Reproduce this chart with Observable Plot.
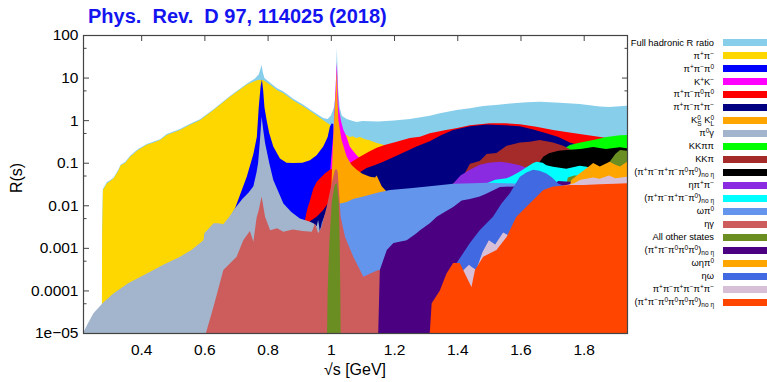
<!DOCTYPE html>
<html><head><meta charset="utf-8">
<script src="https://cdn.jsdelivr.net/npm/d3@7"></script>
<script src="https://cdn.jsdelivr.net/npm/@observablehq/plot@0.6"></script>
<style>
body{margin:0;background:#fff;font-family:"Liberation Sans",Arial,Helvetica,sans-serif;}
#wrap{position:relative;width:767px;height:382px;overflow:hidden;background:#fff;}
#wrap svg{position:absolute;left:0;top:0;}
#title{position:absolute;left:88px;top:4px;font-size:20px;line-height:24px;font-weight:bold;color:#1414f0;white-space:pre;}
.leg{position:absolute;left:520px;width:194px;height:14px;text-align:right;font-size:9.3px;line-height:14px;white-space:nowrap;color:#000;}
.sw{position:absolute;left:723px;width:44px;height:7px;}
.leg sup{font-size:70%;vertical-align:0.45em;line-height:0;}
.leg sub{font-size:70%;vertical-align:-0.3em;line-height:0;}
.st{display:inline-block;font-size:70%;line-height:0.95;vertical-align:-0.45em;text-align:left;}
#ylab{position:absolute;left:17px;top:178px;transform:translate(-50%,-50%) rotate(-90deg);font-size:16px;white-space:nowrap;}
#xlab{position:absolute;left:355px;top:370px;transform:translate(-50%,-50%);font-size:16px;white-space:nowrap;}
</style>
</head><body>
<div id="wrap"></div>
<script>
const titleText = "Phys.  Rev.  D 97, 114025 (2018)";
const xLabel = "√s [GeV]";
const yLabel = "R(s)";
const xTicks = [0.4, 0.6, 0.8, 1.0, 1.2, 1.4, 1.6, 1.8];
const xTickLabels = ["0.4", "0.6", "0.8", "1", "1.2", "1.4", "1.6", "1.8"];
const yMajor = [1e-5, 1e-4, 1e-3, 1e-2, 0.1, 1, 10, 100];
const yTickLabels = ["1e\u221205", "0.0001", "0.001", "0.01", "0.1", "1", "10", "100"];
const yMinor = [5e-5, 5e-4, 5e-3, 0.05, 0.5, 5, 50];

// series: [sqrt(s) GeV, R]
const fullR = [[0.276,4.5e-5],[0.2765,2.5e-3],[0.279,0.024],[0.292,0.035],[0.3,0.038],[0.313,0.045],[0.325,0.063],[0.33,0.074],[0.335,0.09],[0.339,0.093],[0.35,0.105],[0.365,0.145],[0.39,0.21],[0.418,0.275],[0.44,0.315],[0.46,0.355],[0.481,0.47],[0.523,0.62],[0.55,0.79],[0.586,1.05],[0.629,1.8],[0.681,3.7],[0.734,7.2],[0.76,9.5],[0.772,12],[0.778,16.6],[0.781,20],[0.785,13.2],[0.79,9.8],[0.81,7.4],[0.83,5.6],[0.85,4.7],[0.881,3.16],[0.913,2.3],[0.945,1.58],[0.976,1.12],[0.99,1.07],[1.0,1.26],[1.01,2.0],[1.015,4.0],[1.019,49],[1.023,5.6],[1.028,2.0],[1.035,1.26],[1.05,1.07],[1.07,0.95],[1.082,0.91],[1.1,0.95],[1.15,0.93],[1.2,0.98],[1.25,1.07],[1.313,1.26],[1.345,1.45],[1.398,1.74],[1.44,1.9],[1.482,2.14],[1.53,2.3],[1.577,2.5],[1.62,2.63],[1.661,2.7],[1.724,2.57],[1.787,2.4],[1.851,2.1],[1.88,2.04],[1.937,2.19]];
const pipi = [[0.2758,4.5e-5],[0.2765,2e-3],[0.279,0.023],[0.292,0.033],[0.3,0.036],[0.313,0.043],[0.325,0.06],[0.33,0.07],[0.335,0.086],[0.339,0.089],[0.35,0.1],[0.365,0.138],[0.39,0.2],[0.418,0.263],[0.44,0.3],[0.46,0.34],[0.481,0.45],[0.523,0.59],[0.55,0.75],[0.586,1.0],[0.629,1.74],[0.681,3.55],[0.734,6.8],[0.766,8.7],[0.776,8.9],[0.787,8.7],[0.808,6.8],[0.829,5.1],[0.85,4.3],[0.881,2.9],[0.913,2.1],[0.945,1.45],[0.976,1.0],[0.997,0.78],[1.02,0.56],[1.034,0.47],[1.05,0.45],[1.06,0.4],[1.07,0.42],[1.08,0.38],[1.092,0.4],[1.11,0.35],[1.12,0.34],[1.145,0.29],[1.17,0.26],[1.2,0.23],[1.3,0.16],[1.5,0.08],[1.937,0.025]];
const pipipi0 = [[0.6,1e-3],[0.65,2e-3],[0.697,8.5e-3],[0.734,0.047],[0.755,0.16],[0.766,0.41],[0.772,2.0],[0.778,6.3],[0.782,9.0],[0.786,5.0],[0.79,2.0],[0.797,1.0],[0.805,0.5],[0.818,0.24],[0.839,0.126],[0.86,0.1],[0.881,0.098],[0.91,0.1],[0.934,0.115],[0.955,0.15],[0.976,0.24],[0.99,0.4],[0.997,0.7],[1.003,0.85],[1.008,0.8],[1.012,0.3],[1.02,0.15],[1.03,0.1],[1.1,0.05],[1.2,0.03],[1.937,0.006]];
const kpkm = [[0.987,1e-5],[0.99,0.01],[1.0,0.1],[1.008,0.5],[1.012,2.0],[1.016,8],[1.019,23],[1.022,5],[1.025,2.0],[1.027,1.6],[1.033,0.9],[1.04,0.59],[1.05,0.4],[1.06,0.24],[1.07,0.19],[1.082,0.15],[1.1,0.11],[1.15,0.07],[1.3,0.04],[1.937,0.02]];
const pipi2pi0 = [[0.85,1e-4],[0.9,1.6e-3],[0.918,4.5e-3],[0.925,8e-3],[0.934,0.013],[0.945,0.025],[0.955,0.035],[0.966,0.043],[0.981,0.056],[0.997,0.068],[1.03,0.08],[1.06,0.098],[1.092,0.138],[1.12,0.18],[1.145,0.224],[1.17,0.26],[1.208,0.31],[1.25,0.38],[1.282,0.41],[1.313,0.49],[1.36,0.58],[1.4,0.65],[1.44,0.76],[1.503,0.85],[1.55,0.85],[1.598,0.8],[1.65,0.7],[1.703,0.59],[1.75,0.52],[1.809,0.45],[1.874,0.38],[1.937,0.33]];
const twopi2pi = [[0.9,1e-4],[0.934,4.2e-3],[0.955,5.4e-3],[0.976,7.8e-3],[0.997,0.013],[1.03,0.022],[1.06,0.035],[1.092,0.06],[1.113,0.075],[1.14,0.088],[1.166,0.105],[1.218,0.158],[1.271,0.24],[1.313,0.32],[1.35,0.45],[1.387,0.59],[1.44,0.72],[1.493,0.79],[1.55,0.76],[1.598,0.72],[1.64,0.6],[1.682,0.49],[1.72,0.4],[1.756,0.3],[1.8,0.24],[1.85,0.2],[1.937,0.15]];
const k0k0 = [[0.995,1e-5],[0.998,3e-3],[1.003,0.05],[1.007,0.3],[1.009,0.6],[1.012,1.5],[1.016,5],[1.019,15],[1.021,3],[1.024,1.0],[1.034,0.34],[1.05,0.14],[1.065,0.09],[1.082,0.068],[1.1,0.055],[1.124,0.047],[1.14,0.045],[1.145,0.05],[1.161,0.028],[1.182,0.019],[1.19,0.012],[1.25,0.008],[1.937,0.003]];
const pi0gamma = [[0.216,1e-5],[0.23,1.6e-5],[0.249,2.9e-5],[0.28,5.2e-5],[0.312,8.5e-5],[0.36,1.5e-4],[0.418,2.5e-4],[0.47,4e-4],[0.523,6.2e-4],[0.56,9e-4],[0.597,1.5e-3],[0.6,2.2e-3],[0.629,3.8e-3],[0.645,3.8e-3],[0.66,3.6e-3],[0.68,5.5e-3],[0.697,8.5e-3],[0.72,0.014],[0.74,0.02],[0.755,0.028],[0.765,0.06],[0.77,0.1],[0.776,0.35],[0.781,1.2],[0.786,0.6],[0.792,0.29],[0.805,0.1],[0.818,0.039],[0.85,0.011],[0.875,7e-3],[0.902,4.9e-3],[0.93,4.2e-3],[0.945,3.8e-3],[0.955,3.2e-3],[0.96,4.5e-3],[0.965,2.5e-3],[0.97,3.2e-3],[0.99,3.5e-3],[1.0,4e-3],[1.04,3e-3],[1.1,1.5e-3],[1.937,3e-4]];
const kkpipi = [[1.4,1e-3],[1.5,0.01],[1.6,0.05],[1.7,0.13],[1.74,0.22],[1.756,0.26],[1.79,0.3],[1.83,0.34],[1.872,0.4],[1.915,0.44],[1.937,0.45]];
const kkpi = [[1.2,1e-3],[1.35,0.02],[1.42,0.05],[1.44,0.095],[1.471,0.11],[1.493,0.16],[1.524,0.17],[1.556,0.25],[1.598,0.3],[1.629,0.31],[1.661,0.34],[1.703,0.3],[1.735,0.25],[1.76,0.2],[1.8,0.16],[1.937,0.12]];
const sixpi2pi0 = [[1.3,1e-3],[1.5,0.02],[1.6,0.06],[1.65,0.08],[1.672,0.138],[1.69,0.166],[1.72,0.19],[1.746,0.2],[1.79,0.21],[1.83,0.234],[1.87,0.21],[1.914,0.23],[1.937,0.22]];
const etapipi = [[1.2,1e-3],[1.3,0.01],[1.387,0.032],[1.41,0.05],[1.44,0.068],[1.471,0.089],[1.5,0.1],[1.535,0.105],[1.56,0.1],[1.598,0.087],[1.62,0.075],[1.65,0.06],[1.75,0.045],[1.937,0.03]];
const fivepi1pi0 = [[1.1,1e-3],[1.3,8e-3],[1.45,0.025],[1.497,0.034],[1.52,0.04],[1.556,0.043],[1.58,0.052],[1.598,0.062],[1.62,0.079],[1.64,0.098],[1.651,0.105],[1.67,0.1],[1.682,0.087],[1.703,0.08],[1.745,0.072],[1.787,0.085],[1.81,0.08],[1.84,0.06],[1.937,0.05]];
const omegapi0 = [[0.92,1e-5],[0.94,1e-4],[0.96,1.5e-3],[0.971,3.8e-3],[0.981,5.9e-3],[0.997,0.01],[1.01,0.012],[1.03,0.011],[1.05,0.012],[1.07,0.014],[1.103,0.016],[1.15,0.02],[1.187,0.023],[1.25,0.025],[1.313,0.028],[1.387,0.032],[1.45,0.033],[1.493,0.034],[1.55,0.033],[1.6,0.032],[1.7,0.025],[1.937,0.016]];
const etagamma = [[0.605,1e-5],[0.629,4.2e-5],[0.66,3e-4],[0.702,6.2e-4],[0.723,1.5e-3],[0.744,2.5e-3],[0.755,1.4e-3],[0.765,5e-3],[0.772,7.8e-3],[0.781,0.016],[0.792,5.4e-3],[0.808,2.6e-3],[0.83,2.9e-3],[0.85,2.4e-3],[0.88,2.7e-3],[0.91,2.5e-3],[0.94,2.4e-3],[0.95,3.8e-3],[0.96,2.2e-3],[0.97,3e-3],[0.987,9.3e-3],[1.003,0.033],[1.013,0.068],[1.019,0.07],[1.022,0.06],[1.031,5.4e-3],[1.045,1.8e-3],[1.071,6.2e-4],[1.103,2.1e-4],[1.125,2.5e-4],[1.15,3e-4],[1.2,2.5e-4],[1.937,4e-5]];
const otherStates = [[0.988,1e-5],[0.99,1e-4],[0.995,1.2e-3],[1.003,0.012],[1.012,0.03],[1.019,0.034],[1.025,0.012],[1.028,1.5e-3],[1.03,1e-4],[1.031,1e-5],[1.7,1e-5],[1.72,5e-3],[1.75,0.045],[1.77,0.05],[1.8,0.05],[1.85,0.06],[1.88,0.1],[1.9,0.16],[1.915,0.2],[1.937,0.19]];
const fivepi3pi0 = [[1.15,1e-5],[1.155,3e-4],[1.177,8.9e-4],[1.198,1.3e-3],[1.24,1.5e-3],[1.271,2.2e-3],[1.282,2.6e-3],[1.313,3.8e-3],[1.335,5.4e-3],[1.36,7e-3],[1.387,9.1e-3],[1.414,0.013],[1.44,0.014],[1.471,0.016],[1.493,0.019],[1.535,0.027],[1.6,0.028],[1.7,0.03],[1.72,0.037],[1.766,0.035],[1.78,0.025],[1.937,0.02]];
const omegaetapi0 = [[1.7,1e-3],[1.75,0.02],[1.761,0.039],[1.787,0.056],[1.809,0.074],[1.83,0.098],[1.851,0.081],[1.882,0.105],[1.9,0.09],[1.915,0.081],[1.937,0.105]];
const etaomega = [[1.33,1e-5],[1.36,1e-4],[1.398,4.4e-4],[1.44,1.3e-3],[1.471,2.6e-3],[1.513,5.4e-3],[1.54,0.011],[1.566,0.019],[1.598,0.047],[1.62,0.06],[1.64,0.068],[1.66,0.065],[1.682,0.056],[1.7,0.045],[1.72,0.032],[1.76,0.025],[1.937,0.02]];
const sixpiCharged = [[1.33,1e-5],[1.38,1e-4],[1.42,3e-4],[1.437,4e-4],[1.447,3.5e-4],[1.46,3e-4],[1.48,8e-4],[1.5,1.5e-3],[1.52,1.2e-3],[1.545,2.3e-3],[1.56,2e-3],[1.6,6e-3],[1.7,0.025],[1.77,0.033],[1.79,0.04],[1.83,0.045],[1.85,0.042],[1.88,0.05],[1.9,0.043],[1.937,0.047]];
const sixpi4pi0 = [[1.313,1e-5],[1.319,5e-5],[1.345,1e-4],[1.366,2.5e-4],[1.387,4.4e-4],[1.408,4.4e-4],[1.429,2.1e-4],[1.445,1.2e-4],[1.456,3e-4],[1.482,6.2e-4],[1.524,8.9e-4],[1.556,1.8e-3],[1.587,5.4e-3],[1.629,0.011],[1.672,0.023],[1.703,0.0275],[1.756,0.03],[1.8,0.03],[1.85,0.031],[1.9,0.032],[1.937,0.033]];

const seriesData = [fullR, pipi, pipipi0, kpkm, pipi2pi0, twopi2pi, k0k0, pi0gamma, kkpipi, kkpi, sixpi2pi0, etapipi, fivepi1pi0, omegapi0, etagamma, otherStates, fivepi3pi0, omegaetapi0, etaomega, sixpiCharged, sixpi4pi0];
const seriesColors = ["#87CEEB","#FFD700","#0000FF","#FF00FF","#FF0000","#000080","#FFA500","#A2B5CD","#00FF00","#A52A2A","#000000","#8A2BE2","#00FFFF","#6495ED","#CD5C5C","#6B8E23","#4B0082","#FFA500","#4169E1","#D8BFD8","#FF4500"];
const P = "\u03c0", ETA = "\u03b7", OM = "\u03c9", G = "\u03b3";
const seriesLabels = [
  "Full hadronic R ratio",
  `${P}<sup>+</sup>${P}<sup>\u2212</sup>`,
  `${P}<sup>+</sup>${P}<sup>\u2212</sup>${P}<sup>0</sup>`,
  `K<sup>+</sup>K<sup>\u2212</sup>`,
  `${P}<sup>+</sup>${P}<sup>\u2212</sup>${P}<sup>0</sup>${P}<sup>0</sup>`,
  `${P}<sup>+</sup>${P}<sup>\u2212</sup>${P}<sup>+</sup>${P}<sup>\u2212</sup>`,
  `K<span class="st">0<br>S</span> K<span class="st">0<br>L</span>`,
  `${P}<sup>0</sup>${G}`,
  `KK${P}${P}`,
  `KK${P}`,
  `(${P}<sup>+</sup>${P}<sup>\u2212</sup>${P}<sup>+</sup>${P}<sup>\u2212</sup>${P}<sup>0</sup>${P}<sup>0</sup>)<sub>no ${ETA}</sub>`,
  `${ETA}${P}<sup>+</sup>${P}<sup>\u2212</sup>`,
  `(${P}<sup>+</sup>${P}<sup>\u2212</sup>${P}<sup>+</sup>${P}<sup>\u2212</sup>${P}<sup>0</sup>)<sub>no ${ETA}</sub>`,
  `${OM}${P}<sup>0</sup>`,
  `${ETA}${G}`,
  "All other states",
  `(${P}<sup>+</sup>${P}<sup>\u2212</sup>${P}<sup>0</sup>${P}<sup>0</sup>${P}<sup>0</sup>)<sub>no ${ETA}</sub>`,
  `${OM}${ETA}${P}<sup>0</sup>`,
  `${ETA}${OM}`,
  `${P}<sup>+</sup>${P}<sup>\u2212</sup>${P}<sup>+</sup>${P}<sup>\u2212</sup>${P}<sup>+</sup>${P}<sup>\u2212</sup>`,
  `(${P}<sup>+</sup>${P}<sup>\u2212</sup>${P}<sup>0</sup>${P}<sup>0</sup>${P}<sup>0</sup>${P}<sup>0</sup>)<sub>no ${ETA}</sub>`
];

const FLOOR = 1e-5;
const axisColor = "#444";
const areaMarks = seriesData.map((data, i) =>
  Plot.areaY(data, {x: d => d[0], y1: () => FLOOR, y2: d => d[1], fill: seriesColors[i], curve: "linear", clip: true})
);

const chart = Plot.plot({
  width: 767, height: 382,
  marginLeft: 83, marginRight: 140, marginTop: 35, marginBottom: 49,
  style: {fontFamily: '"Liberation Sans", Arial, sans-serif', fontSize: "15.5px", color: "#000", background: "transparent", overflow: "visible"},
  x: {domain: [0.216, 1.937]},
  y: {type: "log", domain: [1e-5, 100]},
  marks: [
    Plot.axisY({ticks: yMajor, tickSize: -6, tickFormat: () => "", stroke: axisColor, label: null}),
    Plot.axisY({ticks: yMinor, tickSize: -3.5, tickFormat: () => "", stroke: axisColor, label: null}),
    Plot.axisY({anchor: "right", ticks: yMajor, tickSize: -6, tickFormat: () => "", stroke: axisColor, label: null}),
    Plot.axisY({anchor: "right", ticks: yMinor, tickSize: -3.5, tickFormat: () => "", stroke: axisColor, label: null}),
    Plot.axisX({anchor: "top", ticks: xTicks, tickSize: -5, tickFormat: () => "", stroke: axisColor, label: null}),
    Plot.axisX({anchor: "bottom", ticks: xTicks, tickSize: -5, tickFormat: () => "", stroke: axisColor, label: null}),
    ...areaMarks,
    Plot.axisY({ticks: yMajor, tickSize: 0, tickPadding: 5, tickFormat: d => yTickLabels[yMajor.indexOf(d)], label: null, fill: "#000"}),
    Plot.axisX({anchor: "bottom", ticks: xTicks, tickSize: 0, tickPadding: 10, tickFormat: d => xTickLabels[xTicks.indexOf(d)], label: null, fill: "#000"}),
    Plot.frame({stroke: axisColor, strokeWidth: 1.2})
  ]
});

const wrap = document.getElementById("wrap");
wrap.appendChild(chart);

const t = document.createElement("div"); t.id = "title"; t.textContent = titleText; wrap.appendChild(t);
const yl = document.createElement("div"); yl.id = "ylab"; yl.textContent = yLabel; wrap.appendChild(yl);
const xl = document.createElement("div"); xl.id = "xlab"; xl.textContent = xLabel; wrap.appendChild(xl);

seriesLabels.forEach((lab, i) => {
  const cy = 42.6 + 12.97 * i;
  const d = document.createElement("div");
  d.className = "leg"; d.style.top = (cy - 7) + "px"; d.innerHTML = lab;
  wrap.appendChild(d);
  const s = document.createElement("div");
  s.className = "sw"; s.style.top = (cy - 3.5) + "px"; s.style.background = seriesColors[i];
  wrap.appendChild(s);
});
</script>
</body></html>
